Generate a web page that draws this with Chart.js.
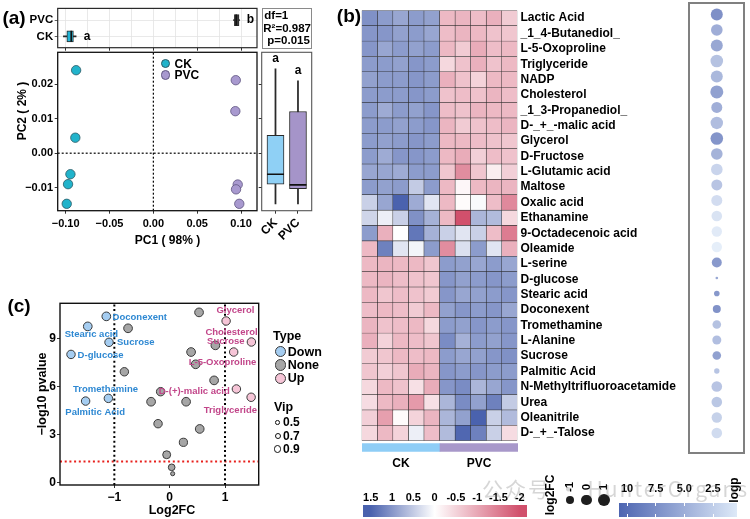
<!DOCTYPE html>
<html>
<head>
<meta charset="utf-8">
<title>PCA, volcano plot and heatmap</title>
<script src="https://cdn.jsdelivr.net/npm/chart.js"></script>
<style>
  html, body { margin: 0; padding: 0; background: #fff; }
  #fig { position: relative; width: 750px; height: 519px; overflow: hidden; font-family: "Liberation Sans", Arial, sans-serif; }
  #fig canvas { position: absolute; left: 0; top: 0; }
  .t { position: absolute; font-weight: bold; line-height: 1; white-space: nowrap; color: #000; }
  .dot { position: absolute; border-radius: 50%; box-sizing: border-box; }
  .box { position: absolute; box-sizing: border-box; }
</style>
</head>
<body>
<div id="fig">
  <canvas id="boxTop" width="750" height="519"></canvas>
  <canvas id="pca" width="750" height="519"></canvas>
  <canvas id="boxRight" width="750" height="519"></canvas>
  <canvas id="volcano" width="750" height="519"></canvas>
  <canvas id="heat" width="750" height="519"></canvas>
  <canvas id="heatGroup" width="750" height="519"></canvas>
  <canvas id="dots" width="750" height="519"></canvas>
</div>
<script>
// ---- (a) PCA ----
const groups = ["CK", "PVC"];
const ckPC1 = [-0.0881, -0.0890, -0.0946, -0.0973, -0.0988];
const ckPC2 = [0.0241, 0.0045, -0.0061, -0.0090, -0.0147];
const pvcPC1 = [0.0940, 0.0935, 0.0962, 0.0943, 0.0980];
const pvcPC2 = [0.0212, 0.0122, -0.0091, -0.0105, -0.0147];
// min, q1, median, q3, max (CK, PVC)
const pc1Stats = [[-0.1026, -0.0987, -0.0937, -0.0912, -0.0881], [0.0915, 0.0924, 0.0945, 0.0977, 0.0982]];
const pc2Stats = [[-0.0147, -0.0090, -0.0061, 0.0052, 0.0245], [-0.0147, -0.0103, -0.0092, 0.0121, 0.0210]];
const pc1Letters = ["a", "b"];
const pc2Letters = ["a", "a"];
const pcaXTicks = [-0.10, -0.05, 0, 0.05, 0.10];
const pcaXGrid = [-0.10, -0.075, -0.05, -0.025, 0, 0.025, 0.05, 0.075, 0.10];
const pcaYTicks = [-0.01, 0, 0.01, 0.02];

// ---- (c) volcano ----
const downNames = ["Doconexent", "Stearic acid", "Sucrose", "D-glucose", "Tromethamine", "Palmitic Acid"];
const downFC = [-1.145, -1.48, -1.096, -1.783, -1.108, -1.519];
const downP = [10.42, 9.79, 8.79, 8.03, 5.27, 5.10];
const downVip = [1.15, 1.15, 1.1, 1.1, 1.1, 1.1];
const noneFC = [0.531, -0.752, 0.826, 0.387, 0.47, -0.819, 0.803, -0.163, -0.336, 0.297, -0.21, 0.543, 0.248, -0.054, 0.036, 0.054];
const noneP = [10.67, 9.67, 8.6, 8.18, 7.41, 6.94, 6.40, 5.69, 5.06, 5.06, 3.68, 3.35, 2.51, 1.73, 0.94, 0.54];
const noneVip = [1.15, 1.15, 1.15, 1.15, 1.15, 1.1, 1.15, 1.1, 1.15, 1.15, 1.1, 1.15, 1.05, 1.0, 0.78, 0.45];
const upNames = ["Glycerol", "Cholesterol", "L-5-Oxoproline", "D-(+)-malic acid", "Triglyceride"];
const upFC = [1.02, 1.477, 1.157, 1.206, 1.472];
const upP = [10.13, 8.81, 8.18, 5.86, 5.34];
const upVip = [1.1, 1.1, 1.1, 1.1, 1.1];
const fcCut = [-1, 1];
const pCut = 1.301;
const volXTicks = [-1, 0, 1];
const volYTicks = [0, 3, 6, 9];
const vipLegend = [0.5, 0.7, 0.9];

// ---- (b) heatmap ----
const samples = ["CK1", "CK2", "CK3", "CK4", "CK5", "PVC1", "PVC2", "PVC3", "PVC4", "PVC5"];
const metabolites = ["Lactic Acid", "_1_4-Butanediol_", "L-5-Oxoproline", "Triglyceride", "NADP", "Cholesterol",
  "_1_3-Propanediol_", "D-_+_-malic acid", "Glycerol", "D-Fructose", "L-Glutamic acid", "Maltose", "Oxalic acid",
  "Ethanamine", "9-Octadecenoic acid", "Oleamide", "L-serine", "D-glucose", "Stearic acid", "Doconexent",
  "Tromethamine", "L-Alanine", "Sucrose", "Palmitic Acid", "N-Methyltrifluoroacetamide", "Urea", "Oleanitrile", "D-_+_-Talose"];
const heatValues = [
  [1.05, 0.95, 0.85, 0.95, 0.90, -0.80, -0.85, -0.75, -0.90, -0.60],
  [1.00, 1.00, 0.90, 0.95, 0.85, -0.75, -0.85, -0.80, -0.70, -0.65],
  [1.00, 0.85, 0.95, 0.90, 0.95, -0.80, -0.60, -0.95, -0.75, -0.80],
  [0.95, 0.95, 0.90, 1.00, 0.95, -0.45, -0.70, -0.90, -0.70, -0.80],
  [0.90, 0.95, 0.95, 1.00, 0.95, -0.90, -0.70, -0.50, -0.80, -0.80],
  [0.95, 0.95, 0.95, 1.00, 0.95, -0.70, -0.75, -0.70, -0.85, -0.75],
  [0.95, 0.80, 0.95, 0.90, 1.00, -0.75, -0.70, -0.85, -0.80, -0.80],
  [0.95, 0.95, 0.90, 0.95, 1.00, -0.85, -0.60, -0.70, -0.75, -0.85],
  [0.95, 0.90, 0.95, 1.00, 0.95, -0.80, -0.80, -0.75, -0.70, -0.65],
  [0.95, 0.80, 1.00, 1.00, 0.95, -0.80, -0.95, -0.55, -0.75, -0.70],
  [0.85, 0.85, 0.80, 0.95, 0.95, -0.65, -1.30, -0.65, -0.20, -0.55],
  [0.95, 0.90, 0.95, 0.50, 0.95, -0.80, -0.10, -0.80, -0.85, -0.85],
  [0.45, 0.85, 1.50, 0.80, 0.25, -0.80, -0.05, 0.05, -0.75, -1.35],
  [0.40, 0.15, 0.45, 1.05, 0.75, -0.80, -2.00, 0.70, 0.65, -0.45],
  [0.95, -0.90, 0.00, 1.30, 0.75, 0.45, 0.25, 0.45, -0.75, -1.50],
  [-0.80, 1.20, 0.25, 0.10, 0.95, -1.30, 0.30, 0.95, 0.25, -0.90],
  [-0.80, -0.85, -0.80, -0.80, -0.65, 0.95, 0.90, 0.85, 0.95, 0.85],
  [-0.80, -0.85, -0.75, -0.70, -0.65, 1.00, 0.90, 0.95, 1.00, 0.95],
  [-0.80, -0.65, -0.75, -0.70, -0.60, 1.00, 0.85, 0.90, 0.95, 1.00],
  [-0.75, -0.80, -0.75, -0.60, -0.80, 0.90, 1.00, 0.95, 1.00, 0.85],
  [-0.85, -0.70, -0.75, -0.80, -0.45, 0.95, 0.90, 1.00, 0.95, 1.00],
  [-0.90, -0.50, -0.80, -0.75, -0.65, 1.10, 0.75, 0.95, 0.90, 1.00],
  [-0.60, -0.65, -0.80, -0.75, -0.80, 0.95, 0.85, 0.90, 1.00, 1.05],
  [-0.65, -0.55, -0.65, -0.95, -0.85, 1.00, 0.95, 1.00, 0.95, 0.95],
  [-0.45, -0.80, -0.70, -0.35, -0.95, 1.00, 1.10, 0.70, 0.85, 1.00],
  [-0.40, -0.80, -0.90, -1.15, -0.35, 0.70, 1.10, 0.90, 1.20, 0.50],
  [-0.55, -1.10, -0.05, -0.50, -0.85, 0.70, 0.90, 1.50, 0.45, 0.65],
  [-0.45, -0.80, -0.50, 0.15, -0.75, 0.65, 1.45, 1.20, 0.45, -0.40]
];
const dotLog2FC = [0.67, 0.47, 0.67, 0.97, 0.67, 1.19, 0.19, 0.87, 0.97, 0.47, 0.47, 0.19, 0.19, 0.01,
  -0.08, -0.08, -0.25, -2.19, -1.68, -1.0, -0.79, -0.65, -0.79, -1.73, 0.01, 0.01, -0.08, 0.01];
const dotLogP = [10.67, 7.5, 8.18, 5.34, 6.4, 8.81, 7.4, 5.86, 10.13, 6.9, 3.35, 5.06, 2.51, 1.73,
  0.94, 0.54, 9.67, 8.03, 9.79, 10.42, 5.27, 5.69, 8.79, 5.10, 5.06, 4.8, 3.68, 2.6];
const heatLegendTicks = [1.5, 1, 0.5, 0, -0.5, -1, -1.5, -2];
const fcLegend = [-1, 0, 1];
const logpLegendTicks = [10, 7.5, 5.0, 2.5];

// ---- styling ----
const FONT = "'Liberation Sans', Arial, sans-serif";
const W = 750, H = 519;
const ckColor = "#21b3cb", pvcColor = "#a899cf";
const groupColors = ["#8ecdf6", "#a898ca"];
const typeColors = { Down: "#a5cdf1", None: "#a6a6a6", Up: "#f6c5d7" };
const downText = "#2e88d2", upText = "#c2468a";
const hmBlue = [74, 98, 174], hmRed = [209, 80, 108];
const lpDark = [77, 101, 177], lpLight = [221, 233, 248];

Chart.defaults.font.family = FONT;
Chart.defaults.font.weight = "bold";
Chart.defaults.font.size = 11;
Chart.defaults.color = "#000";
Chart.defaults.animation = false;
Chart.defaults.responsive = false;
Chart.defaults.devicePixelRatio = 1;
Chart.defaults.plugins.legend.display = false;
Chart.defaults.plugins.tooltip.enabled = false;

const el = id => document.getElementById(id);
const fig = el("fig");

function mix(a, b, t) {
  return a.map((v, i) => Math.round(v + (b[i] - v) * t));
}
function heatColor(v) {
  const t = Math.min(1, v >= 0 ? v / 1.5 : -v / 2);
  const c = mix([255, 255, 255], v >= 0 ? hmBlue : hmRed, t);
  return `rgb(${c.join(",")})`;
}
function logpColor(p) {
  const t = Math.max(0, Math.min(1, (p - 0.43) / (10.67 - 0.43)));
  const c = mix(lpLight, lpDark, t);
  return `rgba(${c.join(",")},0.72)`;
}
function fcRadius(fc) {
  return Math.sqrt(Math.max(28 + 12 * fc, 1.6));
}
function vipRadius(vip) {
  return Math.sqrt(Math.max(21 * vip - 5.2, 1));
}
function minusFmt(v, digits) {
  const s = digits === undefined ? String(Math.abs(v)) : Math.abs(v).toFixed(digits);
  return v < 0 ? "\u2212" + s : s;
}

function layoutFor(l, t, r, b, s) {
  s = Object.assign({ left: 0, right: 0, top: 0, bottom: 0 }, s);
  return { autoPadding: false, padding: { left: l - s.left, top: t - s.top, right: W - r - s.right, bottom: H - b - s.bottom } };
}
function fixedSize(size) {
  return scale => { if (scale.isHorizontal()) scale.height = size; else scale.width = size; };
}
function setTicks(values) {
  return scale => { scale.ticks = values.map(v => ({ value: v })); };
}
const tickGrid = { drawOnChartArea: false, tickLength: 3, tickColor: "#333", tickWidth: 1, offset: false };
const isMajor = ctx => !!ctx.tick && pcaXTicks.some(v => Math.abs(v - ctx.tick.value) < 1e-6);

const framePlugin = {
  id: "frame",
  afterDraw(chart, args, opts) {
    if (!opts.color) return;
    const a = chart.chartArea, c = chart.ctx;
    c.save();
    c.strokeStyle = opts.color;
    c.lineWidth = opts.width || 1;
    c.strokeRect(a.left, a.top, a.right - a.left, a.bottom - a.top);
    c.restore();
  }
};
Chart.register(framePlugin);

// group letters placed past the upper whisker end
function lettersPlugin(letters, dsIndex, dx, dy) {
  return {
    id: "letters",
    afterDatasetsDraw(chart) {
      const c = chart.ctx;
      c.save();
      c.font = "bold 12px " + FONT;
      c.textAlign = "center";
      c.textBaseline = "middle";
      c.fillStyle = "#000";
      chart.getDatasetMeta(dsIndex).data.forEach((bar, i) => {
        const x = bar.horizontal ? Math.max(bar.x, bar.base) : bar.x;
        const y = bar.horizontal ? bar.y : Math.min(bar.y, bar.base);
        c.fillText(letters[i], x + dx, y + dy);
      });
      c.restore();
    }
  };
}

function boxDatasets(stats, colors, horizontal, thickness) {
  const pos = i => i + 1;
  const item = (i, v) => horizontal ? { y: pos(i), x: v } : { x: pos(i), y: v };
  return [
    {
      type: "scatter", order: 0,
      data: stats.map((s, i) => item(i, s[2])),
      pointStyle: "line", pointRadius: thickness / 2, pointRotation: horizontal ? 90 : 0,
      pointBorderColor: "#111", pointBorderWidth: 1.6
    },
    {
      type: "bar", order: 1, indexAxis: horizontal ? "y" : "x", grouped: false,
      data: stats.map((s, i) => item(i, [s[1], s[3]])),
      backgroundColor: colors, borderColor: "#2a2a2a", borderWidth: 1, borderSkipped: false,
      barThickness: thickness
    },
    {
      type: "bar", order: 2, indexAxis: horizontal ? "y" : "x", grouped: false,
      data: stats.map((s, i) => item(i, [s[0], s[4]])),
      backgroundColor: "#2a2a2a", borderWidth: 0, barThickness: 1.1
    }
  ];
}

function make(id, cfg) {
  try {
    return new Chart(el(id), cfg);
  } catch (err) {
    console.error(id, err);
  }
}

// ---- (a) top: PC1 boxplot ----
const PCA = { l: 57.7, t: 52.3, r: 257, b: 210.7 };
const pcaX = { min: -0.1091, max: 0.1182 };
const pcaY = { min: -0.0167, max: 0.0293 };

make("boxTop", {
  type: "bar",
  data: { datasets: boxDatasets(pc1Stats, ["#22b4d6", "#3c3c3c"], true, 11) },
  options: {
    layout: layoutFor(PCA.l, 7.3, PCA.r, 47.7, { left: 50, bottom: 3 }),
    scales: {
      x: {
        type: "linear", offset: false, min: pcaX.min, max: pcaX.max, afterBuildTicks: setTicks(pcaXGrid), afterFit: fixedSize(3),
        border: { display: false }, ticks: { display: false },
        grid: {
          color: "#e3e3e3", lineWidth: 0.8, tickLength: 3, tickWidth: 1, offset: false,
          tickColor: ctx => isMajor(ctx) ? "#333" : "rgba(0,0,0,0)"
        }
      },
      y: {
        type: "linear", offset: false, min: 0.3, max: 2.72, afterBuildTicks: setTicks([1, 2]), afterFit: fixedSize(50),
        border: { display: false },
        grid: { color: "#e3e3e3", lineWidth: 0.8, tickLength: 3, tickColor: "#333", offset: false },
        ticks: { padding: 1.5, font: { size: 11.5 }, callback: v => groups[v - 1] }
      }
    },
    plugins: { frame: { color: "#2a2a2a", width: 1.2 } }
  },
  plugins: [lettersPlugin(pc1Letters, 2, 11, 0)]
});

// ---- (a) PCA scatter ----
make("pca", {
  type: "scatter",
  data: {
    datasets: [
      { label: "CK", order: 0, data: ckPC1.map((x, i) => ({ x, y: ckPC2[i] })), backgroundColor: ckColor,
        borderColor: "#2c5a66", borderWidth: 0.8, pointRadius: 4.7 },
      { label: "PVC", order: 1, data: pvcPC1.map((x, i) => ({ x, y: pvcPC2[i] })), backgroundColor: pvcColor,
        borderColor: "#5f5680", borderWidth: 0.8, pointRadius: 4.7 },
      { type: "line", order: 2, data: [{ x: 0, y: pcaY.min }, { x: 0, y: pcaY.max }], borderColor: "#000",
        borderWidth: 1.2, borderDash: [2, 2], pointRadius: 0 },
      { type: "line", order: 3, data: [{ x: pcaX.min, y: 0 }, { x: pcaX.max, y: 0 }], borderColor: "#000",
        borderWidth: 1.2, borderDash: [2, 2], pointRadius: 0 }
    ]
  },
  options: {
    layout: layoutFor(PCA.l, PCA.t, PCA.r, PCA.b, { left: 50, bottom: 30 }),
    scales: {
      x: {
        type: "linear", min: pcaX.min, max: pcaX.max, afterBuildTicks: setTicks(pcaXTicks), afterFit: fixedSize(30),
        border: { display: false }, grid: tickGrid,
        ticks: { padding: 3.3, font: { size: 11 }, maxRotation: 0, autoSkip: false, callback: v => minusFmt(v, 2) }
      },
      y: {
        type: "linear", min: pcaY.min, max: pcaY.max, afterBuildTicks: setTicks(pcaYTicks), afterFit: fixedSize(50),
        border: { display: false }, grid: tickGrid,
        ticks: { padding: 1.7, font: { size: 11 }, autoSkip: false, callback: v => minusFmt(v, 2) }
      }
    },
    plugins: { frame: { color: "#111", width: 1.3 } }
  }
});

// ---- (a) right: PC2 boxplot ----
make("boxRight", {
  type: "bar",
  data: { datasets: boxDatasets(pc2Stats, ["#8fd0f5", "#a594c9"], false, 17) },
  options: {
    layout: layoutFor(261.7, PCA.t, 311.7, PCA.b, { left: 3, bottom: 40 }),
    scales: {
      x: {
        type: "linear", offset: false, min: 0.387, max: 2.61, afterBuildTicks: setTicks([1, 2]), afterFit: fixedSize(40),
        border: { display: false }, grid: tickGrid,
        ticks: { padding: 2, font: { size: 12 }, minRotation: 45, maxRotation: 45, callback: v => groups[v - 1] }
      },
      y: {
        type: "linear", offset: false, min: pcaY.min, max: pcaY.max, afterBuildTicks: setTicks(pcaYTicks), afterFit: fixedSize(3),
        border: { display: false }, grid: tickGrid, ticks: { display: false }
      }
    },
    plugins: { frame: { color: "#555", width: 1.1 } }
  },
  plugins: [lettersPlugin(pc2Letters, 2, 0, -10)]
});

// ---- (c) volcano ----
const VOL = { l: 60, t: 303.3, r: 258.7, b: 485 };
const volX = { min: -1.982, max: 1.609 };
const volY = { min: -0.17, max: 11.24 };
const bubbles = (fc, p, vip) => fc.map((x, i) => ({ x, y: p[i], r: vipRadius(vip[i]) }));
const volLabels = [
  { ds: 0, i: 0, text: downNames[0], color: downText, dx: 6.3, dy: 1 },
  { ds: 0, i: 1, text: downNames[1], color: downText, dx: -23, dy: 7.7 },
  { ds: 0, i: 2, text: downNames[2], color: downText, dx: 8, dy: 0 },
  { ds: 0, i: 3, text: downNames[3], color: downText, dx: 6.6, dy: 0.7 },
  { ds: 0, i: 4, text: downNames[4], color: downText, dx: -35.3, dy: -9.3 },
  { ds: 0, i: 5, text: downNames[5], color: downText, dx: -20.3, dy: 11.7 },
  { ds: 2, i: 0, text: upNames[0], color: upText, dx: -9.7, dy: -11 },
  { ds: 2, i: 1, text: upNames[1], color: upText, dx: -46, dy: -9.7 },
  { ds: 2, i: 1, text: "Sucrose", color: upText, dx: -44.3, dy: -0.3 },
  { ds: 2, i: 2, text: upNames[2], color: upText, dx: -45, dy: 10.3 },
  { ds: 2, i: 3, text: upNames[3], color: upText, dx: -77.7, dy: 2 },
  { ds: 2, i: 4, text: upNames[4], color: upText, dx: -47.4, dy: 13 }
];
const refLine = (data, color) => ({ type: "line", order: 5, data, borderColor: color, borderWidth: 2,
  borderDash: [2, 2.7], pointRadius: 0 });

make("volcano", {
  type: "bubble",
  data: {
    datasets: [
      { label: "Down", order: 0, data: bubbles(downFC, downP, downVip), backgroundColor: typeColors.Down, borderColor: "#3a3a3a", borderWidth: 1 },
      { label: "None", order: 1, data: bubbles(noneFC, noneP, noneVip), backgroundColor: typeColors.None, borderColor: "#3a3a3a", borderWidth: 1 },
      { label: "Up", order: 0, data: bubbles(upFC, upP, upVip), backgroundColor: typeColors.Up, borderColor: "#3a3a3a", borderWidth: 1 },
      refLine([{ x: fcCut[0], y: volY.min }, { x: fcCut[0], y: volY.max }], "#000"),
      refLine([{ x: fcCut[1], y: volY.min }, { x: fcCut[1], y: volY.max }], "#000"),
      refLine([{ x: volX.min, y: pCut }, { x: volX.max, y: pCut }], "#e8201c")
    ]
  },
  options: {
    layout: layoutFor(VOL.l, VOL.t, VOL.r, VOL.b, { left: 50, bottom: 22 }),
    scales: {
      x: {
        type: "linear", min: volX.min, max: volX.max, afterBuildTicks: setTicks(volXTicks), afterFit: fixedSize(22),
        border: { display: false }, grid: tickGrid,
        ticks: { padding: 2.5, font: { size: 12 }, maxRotation: 0, callback: v => minusFmt(v) }
      },
      y: {
        type: "linear", min: volY.min, max: volY.max, afterBuildTicks: setTicks(volYTicks), afterFit: fixedSize(50),
        border: { display: false }, grid: tickGrid,
        ticks: { padding: 1, font: { size: 12 }, callback: v => minusFmt(v) }
      }
    },
    plugins: { frame: { color: "#111", width: 1.4 } }
  },
  plugins: [{
    id: "volLabels",
    afterDatasetsDraw(chart) {
      const c = chart.ctx;
      c.save();
      c.font = "bold 9.5px " + FONT;
      c.textAlign = "left";
      c.textBaseline = "middle";
      volLabels.forEach(l => {
        const p = chart.getDatasetMeta(l.ds).data[l.i];
        c.fillStyle = l.color;
        c.fillText(l.text, p.x + l.dx, p.y + l.dy);
      });
      c.restore();
    }
  }]
});

// ---- (b) heatmap ----
const HM = { l: 361.7, t: 6.7, r: 517.3, b: 440.7 };
make("heat", {
  type: "bar",
  data: {
    labels: metabolites,
    datasets: samples.map((s, j) => ({
      label: s,
      data: metabolites.map(() => 1),
      backgroundColor: heatValues.map(row => heatColor(row[j])),
      borderColor: "#2b2b2b", borderWidth: 0.55, borderSkipped: false,
      barPercentage: 1, categoryPercentage: 1
    }))
  },
  options: {
    indexAxis: "y",
    layout: layoutFor(HM.l, HM.t, HM.r, HM.b, { right: 200 }),
    scales: {
      x: { stacked: true, display: false, min: 0, max: samples.length },
      y: {
        stacked: true, position: "right", afterFit: fixedSize(200),
        border: { display: false }, grid: { display: false, drawTicks: false },
        ticks: { padding: 3.2, font: { size: 12 }, autoSkip: false }
      }
    }
  }
});

make("heatGroup", {
  type: "bar",
  data: {
    labels: groups,
    datasets: [{ data: groups.map(() => 1), backgroundColor: groupColors, barPercentage: 1, categoryPercentage: 1 }]
  },
  options: {
    layout: layoutFor(362, 443.3, 518, 451.7, { bottom: 16 }),
    scales: {
      x: { afterFit: fixedSize(16), border: { display: false }, grid: { display: false, drawTicks: false },
        ticks: { padding: 5, font: { size: 12 } } },
      y: { display: false, min: 0, max: 1 }
    }
  }
});

const DOT = { l: 690.3, t: 3.7, r: 743.3, b: 451.3 };
const rowH = (HM.b - HM.t) / metabolites.length;
make("dots", {
  type: "bubble",
  data: {
    datasets: [{
      data: metabolites.map((m, i) => ({ x: 0.5, y: i + 0.5, r: fcRadius(dotLog2FC[i]) })),
      backgroundColor: dotLogP.map(logpColor), borderWidth: 0, clip: false
    }]
  },
  options: {
    layout: layoutFor(DOT.l, DOT.t, DOT.r, DOT.b),
    scales: {
      x: { display: false, min: 0, max: 1 },
      y: { display: false, reverse: true, min: (DOT.t - HM.t) / rowH, max: (DOT.b - HM.t) / rowH }
    }
  }
});

// ---- text, frames and legends ----
function text(str, x, y, o = {}) {
  const d = document.createElement("div");
  d.className = "t";
  d.textContent = str;
  d.style.left = x + "px";
  d.style.top = y + "px";
  d.style.fontSize = (o.size || 12) + "px";
  if (o.color) d.style.color = o.color;
  if (o.family) d.style.fontFamily = o.family;
  if (o.weight) d.style.fontWeight = o.weight;
  if (o.spacing) d.style.letterSpacing = o.spacing + "px";
  const ax = o.align === "left" ? "0%" : o.align === "right" ? "-100%" : "-50%";
  d.style.transform = `translate(${ax},-50%)` + (o.rot ? ` rotate(${o.rot}deg)` : "");
  fig.appendChild(d);
  return d;
}
function circle(x, y, r, fill, stroke, bw) {
  const d = document.createElement("div");
  d.className = "dot";
  Object.assign(d.style, {
    left: (x - r) + "px", top: (y - r) + "px", width: 2 * r + "px", height: 2 * r + "px",
    background: fill, border: bw ? `${bw}px solid ${stroke}` : "none"
  });
  fig.appendChild(d);
}
function rect(x, y, w, h, style) {
  const d = document.createElement("div");
  d.className = "box";
  Object.assign(d.style, { left: x + "px", top: y + "px", width: w + "px", height: h + "px" }, style);
  fig.appendChild(d);
  return d;
}

text("(a)", 14, 17, { size: 19 });
text("(b)", 349, 15, { size: 19 });
text("(c)", 19, 305, { size: 19 });

// stats box
rect(261.7, 8.3, 50, 40.7, { border: "1.3px solid #8a8a8a" });
text("df=1", 264.3, 16, { size: 11.5, align: "left" });
text("R\u00b2=0.987", 263.3, 29, { size: 11.5, align: "left" });
text("p=0.015", 267.3, 40.7, { size: 11.5, align: "left" });

// PCA titles and legend
text("PC1 ( 98% )", 167.5, 240, { size: 12 });
text("PC2 ( 2% )", 21.7, 111, { size: 12, rot: -90 });
circle(165.7, 63.3, 4.7, ckColor, "#2c5a66", 0.8);
circle(165.7, 75, 4.7, pvcColor, "#5f5680", 0.8);
text("CK", 174.5, 63.5, { size: 12, align: "left" });
text("PVC", 174.5, 75.2, { size: 12, align: "left" });

// volcano titles and legend
text("Log2FC", 172, 510, { size: 12.5 });
text("\u2212log10 pvalue", 41.5, 394, { size: 12.5, rot: -90 });
text("Type", 273, 335.7, { size: 12.5, align: "left" });
["Down", "None", "Up"].forEach((k, i) => {
  const y = 351.7 + i * 13.3;
  circle(280.7, y, 5.6, typeColors[k], "#3a3a3a", 1);
  text(k, 287.8, y, { size: 12.5, align: "left" });
});
text("Vip", 274, 406.7, { size: 12.5, align: "left" });
vipLegend.forEach((v, i) => {
  const y = 422.3 + i * 13.35;
  circle(277.7, y, vipRadius(v), "#fff", "#111", 1.1);
  text(v.toFixed(1), 283, y, { size: 12, align: "left" });
});

// dot panel frame
rect(688.3, 1.7, 57, 452, { border: "2px solid #808080" });

// heatmap colour legend
const hmLegX = v => 370.7 + (1.5 - v) * 42.6;
const pct = v => ((hmLegX(v) - 363) / 164 * 100).toFixed(1) + "%";
rect(363, 505, 164, 11.5, {
  background: `linear-gradient(to right, ${heatColor(1.5)} 0%, ${heatColor(1.5)} ${pct(1.5)}, #fff ${pct(0)}, ${heatColor(-2)} ${pct(-2)}, ${heatColor(-2)} 100%)`
});
heatLegendTicks.forEach(v => text(minusFmt(v).replace("\u2212", "-"), hmLegX(v), 497.3, { size: 11 }));

// log2FC size legend
text("log2FC", 550, 495, { size: 12, rot: -90 });
const fcLegX = [570, 586.7, 604];
fcLegend.forEach((v, i) => {
  circle(fcLegX[i], 500, fcRadius(v), "#1e1e1e", null, 0);
  text(String(v), fcLegX[i], 486.5, { size: 11.5, rot: -90 });
});

// logp colour legend
const lpLegX = v => 627 + (10 - v) * 11.47;
rect(619.3, 503, 117.4, 13.7, {
  background: `linear-gradient(to right, rgb(${lpDark.join(",")}), rgb(${lpLight.join(",")}))`
});
logpLegendTicks.forEach(v => {
  text(v === 10 ? "10" : v.toFixed(1), lpLegX(v), 488.3, { size: 11 });
  rect(lpLegX(v) - 0.5, 503, 1, 2.5, { background: "#fff" });
  rect(lpLegX(v) - 0.5, 514.2, 1, 2.5, { background: "#fff" });
});
text("logp", 734, 490, { size: 12, rot: -90 });

// watermark
text("\u516c\u4f17\u53f7 \u00b7 HunterOrgans", 482, 488, {
  size: 21, align: "left", color: "rgba(120,120,120,0.3)", family: "'Noto Sans CJK SC', 'Noto Sans', sans-serif",
  weight: "normal", spacing: 2
});
</script>
</body>
</html>
